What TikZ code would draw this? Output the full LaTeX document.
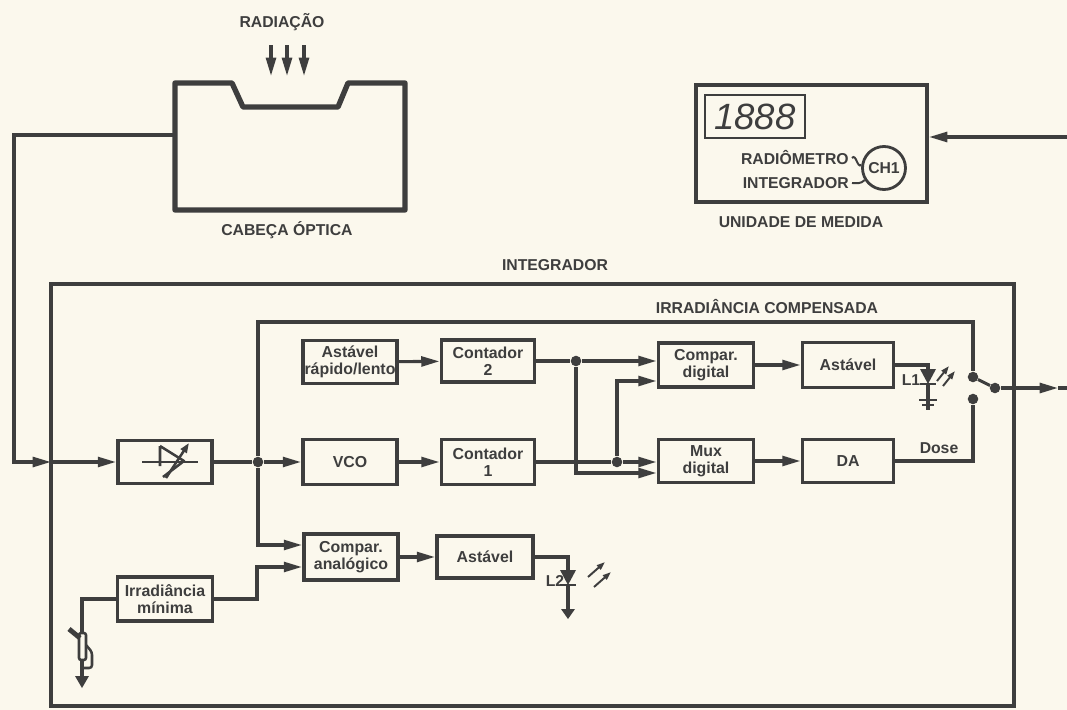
\documentclass[tikz,border=0pt]{standalone}
\usepackage{fontspec}
\setmainfont{Liberation Sans}
\usetikzlibrary{arrows.meta,positioning}
\definecolor{ink}{RGB}{62,62,62}
\definecolor{paper}{RGB}{251,248,237}
\tikzset{
  px/.style 2 args={minimum width=#1*0.025cm, minimum height=#2*0.025cm},
  blk/.style={draw=ink, line width=2.8pt, inner sep=1pt, align=center, text=ink,
    font=\fontsize{11.3}{12}\selectfont\bfseries},
  lbl/.style={text=ink, inner sep=0pt, font=\fontsize{11.2}{12}\selectfont\bfseries},
  wire/.style={draw=ink, line width=2.2pt},
  arr/.style={-{Triangle[length=13pt,width=7pt]}},
  jdot/.style={circle, fill=ink, inner sep=0pt, minimum size=7.5pt},
  intframe/.style={draw=ink, line width=2.6pt},
  led/.pic={
    \fill[ink] (-8,-8) -- (8,-8) -- (0,7) -- cycle;
    \draw[ink, line width=2pt] (-8,7) -- (8,7);
  },
  beam/.style={draw=ink, line width=1.4pt, -{Triangle[length=6pt,width=4pt]}},
}
\begin{document}
\begin{tikzpicture}[x=0.025cm, y=-0.025cm]
\fill[paper] (0,0) rectangle (1067,710);
\useasboundingbox (0,0) rectangle (1067,710);

% optical head
\draw[ink, line width=3.8pt, line join=round] (175,83) -- (232,83) -- (243,107) -- (338,107)
  -- (348,83) -- (405,83) -- (405,210) -- (175,210) -- cycle;
\foreach \x in {271,287,304}
  \draw[wire, arr] (\x,45) -- (\x,76);
\node[lbl] (rad) at (282,22) {RADIAÇÃO};
\node[lbl] (cab) at (287,230) {CABEÇA ÓPTICA};
\coordinate (hd) at (175,135);

% measuring unit
\node[draw=ink, line width=2.8pt, px={231}{117}] (unit) at (811.5,143.5) {};
\node[draw=ink, line width=2pt, px={100}{43}, inner sep=0pt, text=ink,
  font=\fontsize{26}{26}\selectfont\itshape] (disp) at (755,116.5) {1888};
\node[lbl, anchor=east] (radm) at (849,158) {RADIÔMETRO};
\node[lbl, anchor=east] (intg) at (849,183) {INTEGRADOR};
\node[circle, draw=ink, line width=2pt, minimum size=43*0.025cm, lbl] (ch1) at (884,168) {CH1};
\draw[ink, line width=1.4pt] (radm.east) ++(3,0) .. controls +(4,-5) and +(-4,4) .. (ch1.172);
\draw[ink, line width=1.4pt] (intg.east) ++(3,0) .. controls +(5,0) and +(-4,4) .. (ch1.212);
\node[lbl] (udm) at (801,222) {UNIDADE DE MEDIDA};
\coordinate (uR) at (1067,137);
\draw[wire, arr] (uR) -- (uR -| unit.east);

% integrator
\draw[intframe] (51,284) rectangle (1014,706);
\node[lbl] (intl) at (555,265) {INTEGRADOR};
\node[lbl] (irc) at (767,307) {IRRADIÂNCIA COMPENSADA};

\node[blk, px={94}{43}] (amp) at (165,462) {};
\draw[ink, line width=1.8pt] (142,462) -- (198,462);
\draw[ink, line width=1.8pt, line join=round] (160,446) -- (184,461) -- (163,477) (160,446) -- (160,466);
\draw[ink, line width=1.8pt, -{Triangle[length=7pt,width=5pt]}] (166,478) -- (189,443);

\node[blk, px={94}{43}] (ast2) at (350,362) {Astável\\rápido/lento};
\node[blk, px={93}{42}] (cnt2) at (488,361) {Contador\\2};
\node[blk, px={94}{45}] (vco) at (350,462) {VCO};
\node[blk, px={93}{45}] (cnt1) at (488,462) {Contador\\1};
\node[blk, px={95}{44}] (cmpd) at (706,365) {Compar.\\digital};
\node[blk, px={91}{45}] (astd) at (848,365) {Astável};
\node[blk, px={95}{43}] (mux) at (706,461) {Mux\\digital};
\node[blk, px={91}{43}] (da) at (848,461) {DA};
\node[blk, px={94}{46}] (cmpa) at (351,557) {Compar.\\analógico};
\node[blk, px={96}{42}] (asta) at (485,557) {Astável};
\node[blk, px={95}{44}] (irr) at (165,599) {Irradiância\\mínima};

\coordinate (lft) at (14,462);
\coordinate (inb) at (51,462);
\coordinate (tp) at (0,322);
\node[jdot] (j1) at (258,462) {};
\node[jdot] (j3) at (576,361) {};
\node[jdot] (j4) at (617,462) {};
\node[jdot] (ca) at (973,377) {};
\node[jdot] (cb) at (973,399) {};
\node[jdot] (pv) at (995,388) {};
\coordinate (out1) at (1058,388);
\coordinate (out2) at (1067,388);

\draw[wire, arr] (hd) -| (lft) -- (inb);
\draw[wire, arr] (inb) -- (amp);
\draw[wire] (amp) -- (j1);
\draw[wire, arr] (j1) -- (vco);
\draw[wire, arr] (vco) -- (cnt1);
\draw[wire, arr] (ast2) -- (cnt2);
\draw[wire] (cnt2) -- (j3);
\draw[wire, arr] (j3) -- (j3 -| cmpd.west);
\draw[wire] (cnt1) -- (j4);
\draw[wire, arr] (j4) -- (j4 -| mux.west);
\draw[wire, arr] (j3) |- ([yshift=-0.3cm]mux.west);
\draw[wire, arr] (j4) |- ([yshift=-0.4cm]cmpd.west);
\draw[wire, arr] (cmpd) -- (astd);
\draw[wire, arr] (mux) -- (da);
\draw[wire] (j1) -- (j1 |- tp) -| (ca);
\draw[wire] (pv) -- (ca);
\draw[wire] (da) -| (cb);
\draw[wire, arr] (pv) -- (out1);
\draw[wire] (out1) -- (out2);
\node[lbl] (dose) at (939,448) {Dose};

% L1
\draw[wire] (astd.east) -| (928,370);
\pic at (928,377) {led};
\draw[wire] (928,384) -- (928,410);
\draw[ink, line width=2pt] (919,400) -- (937,400) (922,405) -- (934,405);
\draw[beam] (937,381) -- (949,366);
\draw[beam] (943,386) -- (955,371);
\node[lbl] (l1) at (911,380) {L1};

% lower branch
\draw[wire, arr] (j1) |- ([yshift=0.3cm]cmpa.west);
\draw[wire, arr] (irr.east) -| (257,580) |- ([yshift=-0.25cm]cmpa.west);
\draw[wire, arr] (cmpa) -- (asta);
\draw[wire] (asta.east) -| (568,571);
\pic at (568,578) {led};
\draw[wire] (568,585) -- (568,610);
\fill[ink] (561,609) -- (575,609) -- (568,619) -- cycle;
\draw[beam] (588,577) -- (605,562);
\draw[beam] (594,587) -- (611,572);
\node[lbl] (l2) at (555,581) {L2};

% sensor of minimum irradiance
\draw[wire] (irr.west) -| (82,634);
\draw[ink, line width=3.5pt] (69,629) -- (80,638);
\draw[ink, line width=1.8pt, rounded corners=1.5pt] (79,633) rectangle (86,660);
\draw[ink, line width=1.8pt, rounded corners=2pt] (86,645) -- (92,652) -- (92,668) -- (82,668);
\draw[wire] (82,660) -- (82,677);
\fill[ink] (75,676) -- (89,676) -- (82,688) -- cycle;
\end{tikzpicture}
\end{document}
